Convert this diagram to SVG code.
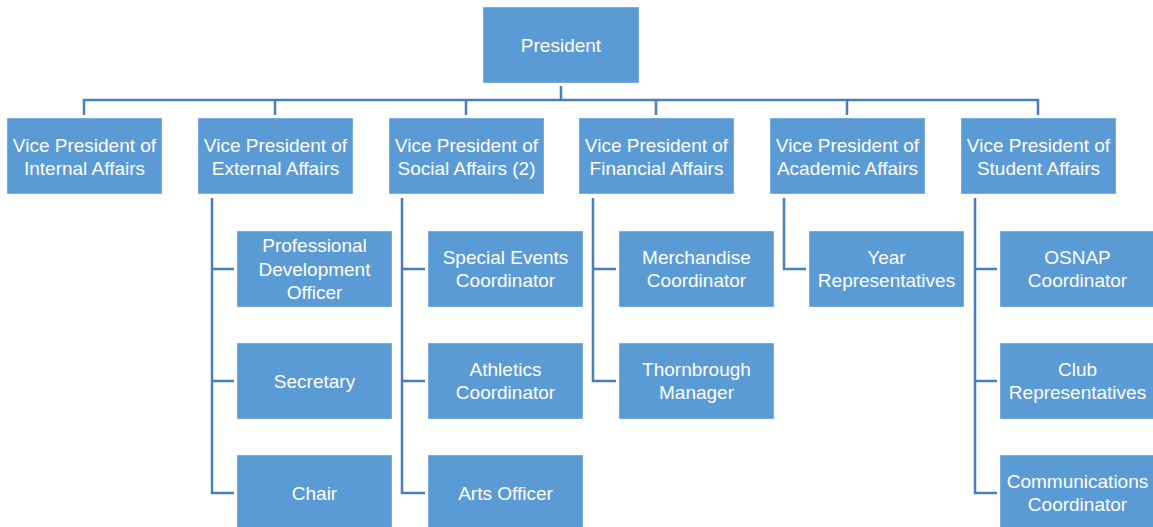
<svg xmlns="http://www.w3.org/2000/svg" width="1153" height="527" viewBox="0 0 1153 527">
<style>
.box{fill:#5B9BD5;stroke:#ffffff;stroke-opacity:0.35;stroke-width:1}
.t{font-family:"Liberation Sans",Arial,sans-serif;font-size:19px;fill:#ffffff;text-anchor:middle}
.c{fill:none;stroke:#4A80B5;stroke-width:2.5}
</style>
<rect width="1153" height="527" fill="#ffffff"/>
<g id="connectors">
<path class="c" d="M561 86V100M84 115V100H1038V115M275 100V115M466 100V115M656 100V115M847 100V115"/>
<path class="c" d="M212 198V493H234M212 269H234M212 381H234"/>
<path class="c" d="M402 198V493H425M402 269H425M402 381H425"/>
<path class="c" d="M593 198V381H616M593 269H616"/>
<path class="c" d="M784 198V269H806"/>
<path class="c" d="M975 198V493H997M975 269H997M975 381H997"/>
</g>
<g id="president"><rect class="box" x="483" y="7" width="156" height="76"/><text class="t" x="561" y="52">President</text></g>
<g id="vp-internal"><rect class="box" x="7" y="118" width="155" height="76"/><text class="t" x="84.5" y="152">Vice President of</text><text class="t" x="84.5" y="175">Internal Affairs</text></g>
<g id="vp-external"><rect class="box" x="198" y="118" width="155" height="76"/><text class="t" x="275.5" y="152">Vice President of</text><text class="t" x="275.5" y="175">External Affairs</text></g>
<g id="vp-social"><rect class="box" x="389" y="118" width="155" height="76"/><text class="t" x="466.5" y="152">Vice President of</text><text class="t" x="466.5" y="175">Social Affairs (2)</text></g>
<g id="vp-financial"><rect class="box" x="579" y="118" width="155" height="76"/><text class="t" x="656.5" y="152">Vice President of</text><text class="t" x="656.5" y="175">Financial Affairs</text></g>
<g id="vp-academic"><rect class="box" x="770" y="118" width="155" height="76"/><text class="t" x="847.5" y="152">Vice President of</text><text class="t" x="847.5" y="175">Academic Affairs</text></g>
<g id="vp-student"><rect class="box" x="961" y="118" width="155" height="76"/><text class="t" x="1038.5" y="152">Vice President of</text><text class="t" x="1038.5" y="175">Student Affairs</text></g>
<g id="professional-development-officer"><rect class="box" x="237" y="231" width="155" height="76"/><text class="t" x="314.5" y="252">Professional</text><text class="t" x="314.5" y="275.5">Development</text><text class="t" x="314.5" y="299">Officer</text></g>
<g id="secretary"><rect class="box" x="237" y="343" width="155" height="76"/><text class="t" x="314.5" y="388">Secretary</text></g>
<g id="chair"><rect class="box" x="237" y="455" width="155" height="76"/><text class="t" x="314.5" y="500">Chair</text></g>
<g id="special-events-coordinator"><rect class="box" x="428" y="231" width="155" height="76"/><text class="t" x="505.5" y="264">Special Events</text><text class="t" x="505.5" y="287">Coordinator</text></g>
<g id="athletics-coordinator"><rect class="box" x="428" y="343" width="155" height="76"/><text class="t" x="505.5" y="376">Athletics</text><text class="t" x="505.5" y="399">Coordinator</text></g>
<g id="arts-officer"><rect class="box" x="428" y="455" width="155" height="76"/><text class="t" x="505.5" y="500">Arts Officer</text></g>
<g id="merchandise-coordinator"><rect class="box" x="619" y="231" width="155" height="76"/><text class="t" x="696.5" y="264">Merchandise</text><text class="t" x="696.5" y="287">Coordinator</text></g>
<g id="thornbrough-manager"><rect class="box" x="619" y="343" width="155" height="76"/><text class="t" x="696.5" y="376">Thornbrough</text><text class="t" x="696.5" y="399">Manager</text></g>
<g id="year-representatives"><rect class="box" x="809" y="231" width="155" height="76"/><text class="t" x="886.5" y="264">Year</text><text class="t" x="886.5" y="287">Representatives</text></g>
<g id="osnap-coordinator"><rect class="box" x="1000" y="231" width="155" height="76"/><text class="t" x="1077.5" y="264">OSNAP</text><text class="t" x="1077.5" y="287">Coordinator</text></g>
<g id="club-representatives"><rect class="box" x="1000" y="343" width="155" height="76"/><text class="t" x="1077.5" y="376">Club</text><text class="t" x="1077.5" y="399">Representatives</text></g>
<g id="communications-coordinator"><rect class="box" x="1000" y="455" width="155" height="76"/><text class="t" x="1077.5" y="488">Communications</text><text class="t" x="1077.5" y="511">Coordinator</text></g>
</svg>
